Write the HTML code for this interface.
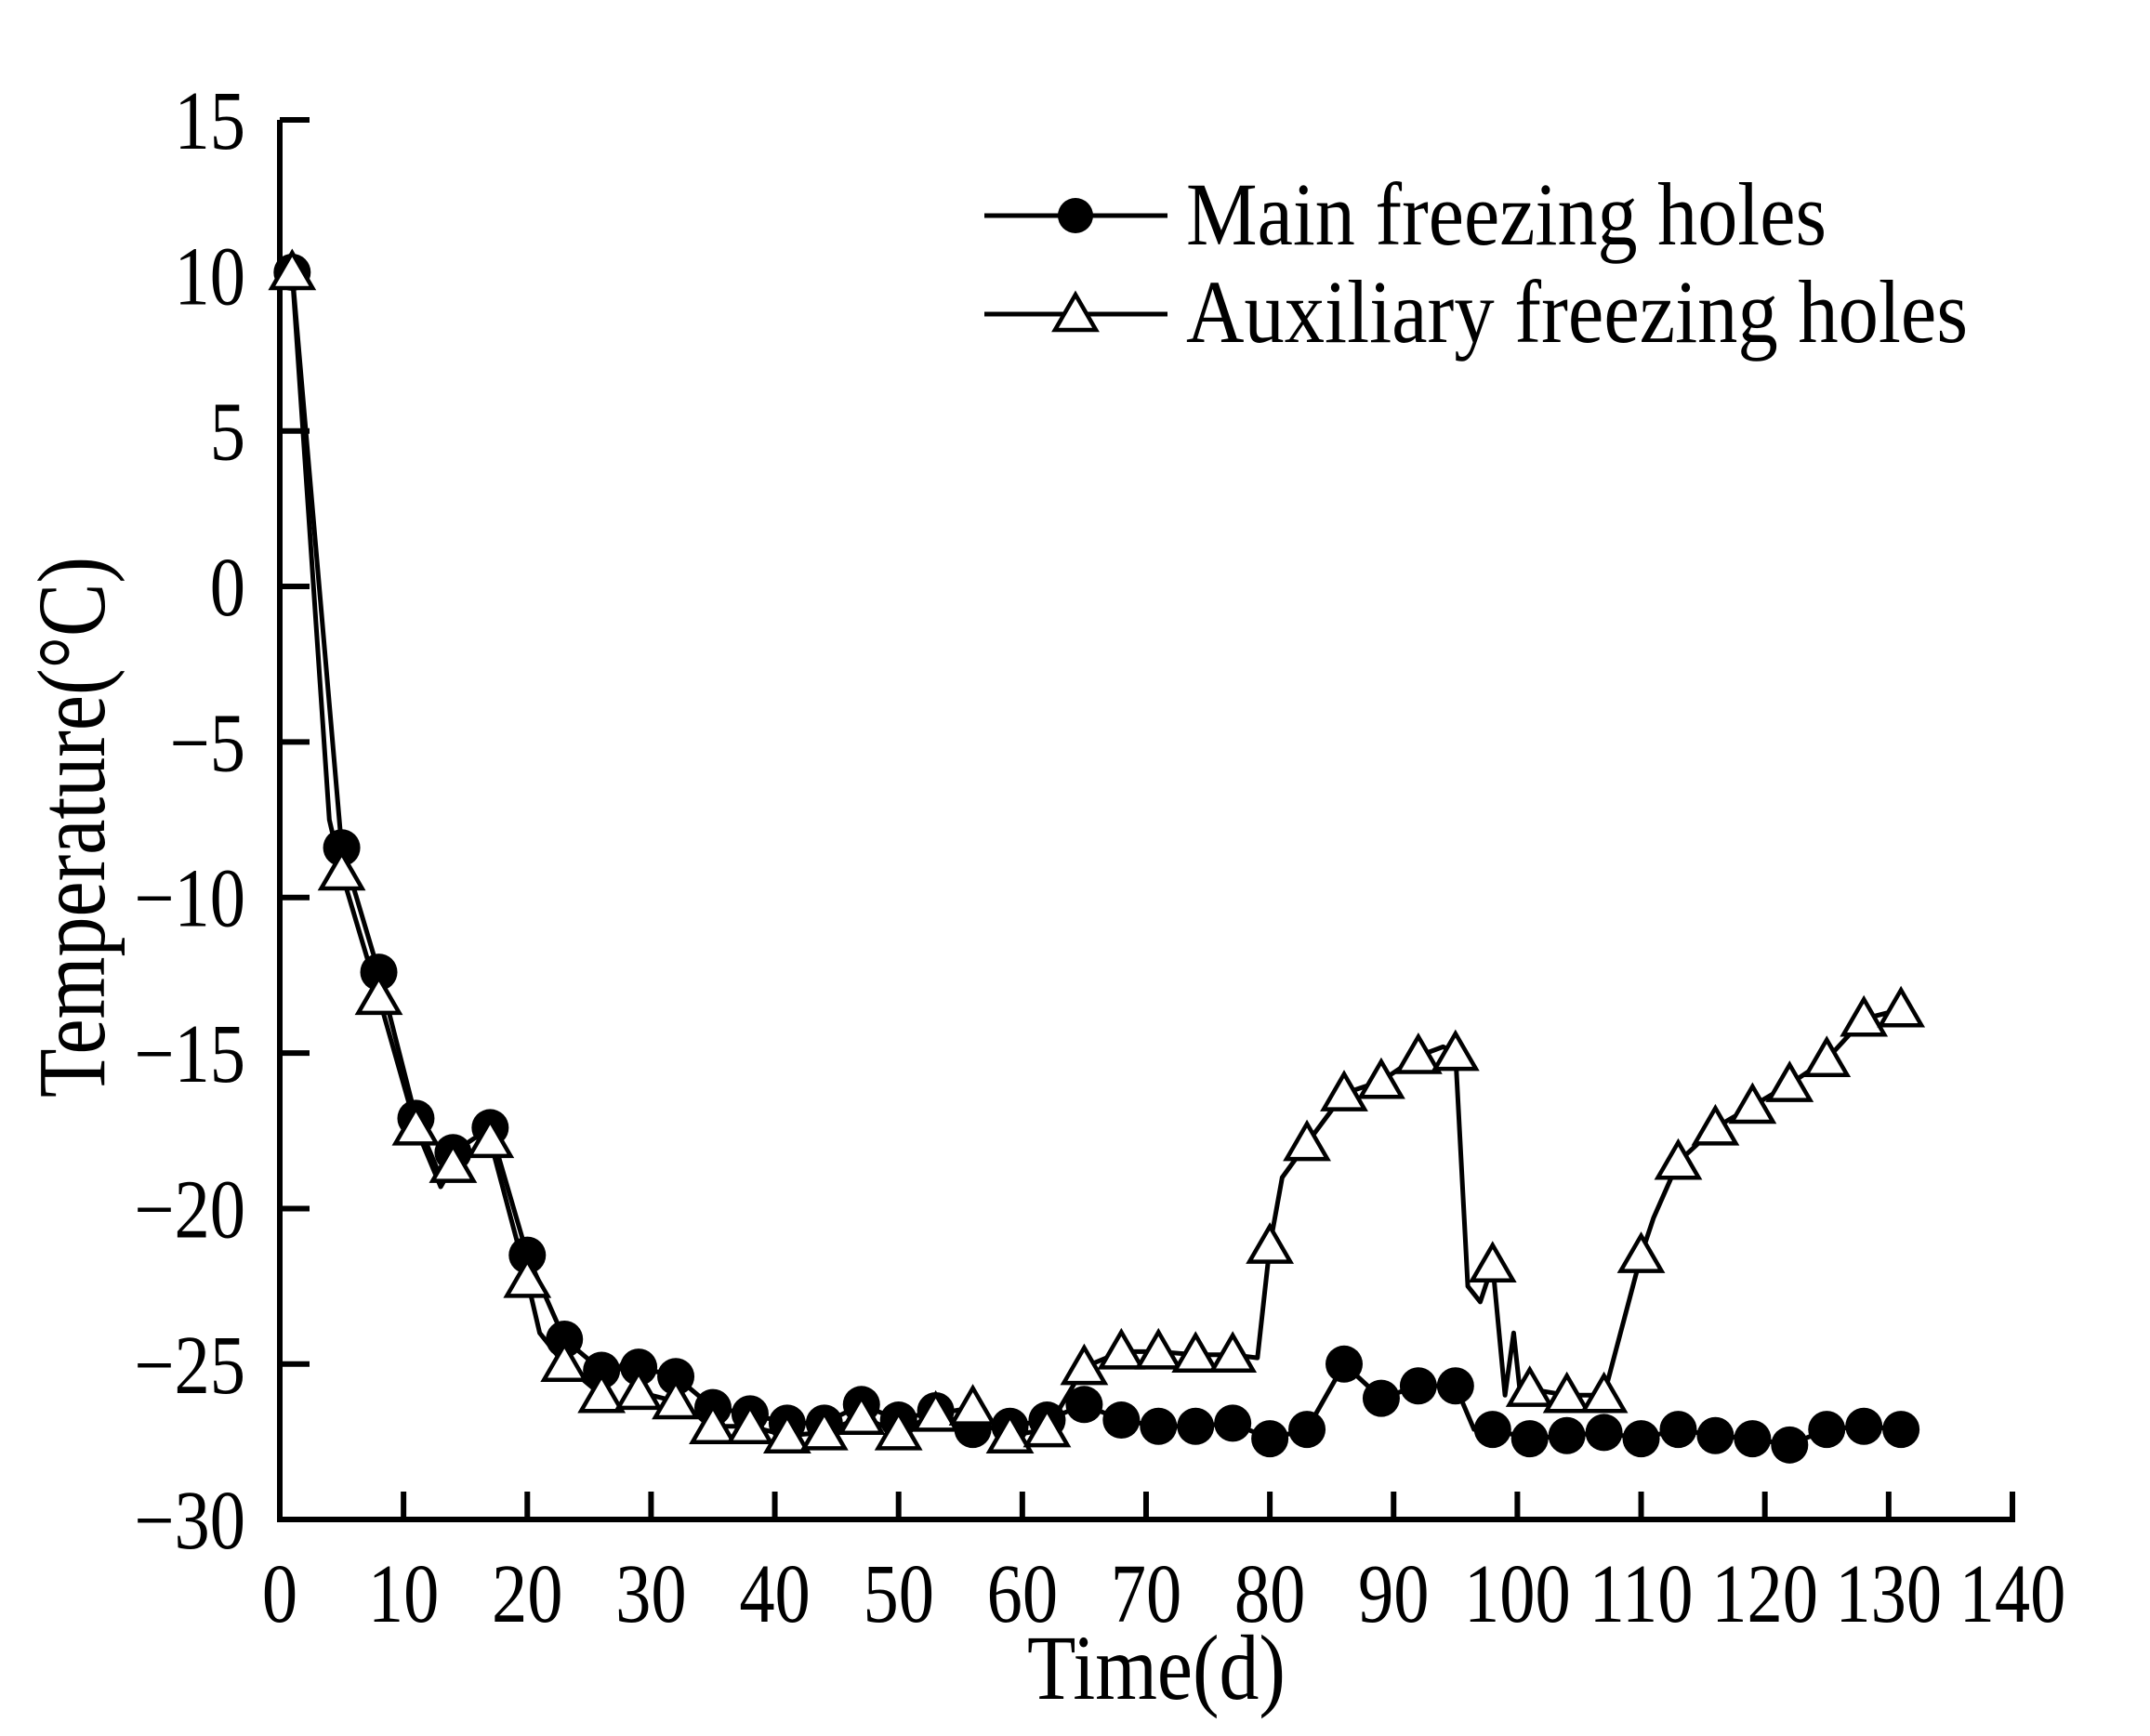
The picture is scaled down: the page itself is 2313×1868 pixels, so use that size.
<!DOCTYPE html>
<html><head><meta charset="utf-8"><style>html,body{margin:0;padding:0;background:#fff}svg{display:block}</style></head>
<body>
<svg id="s" width="2313" height="1868" xmlns="http://www.w3.org/2000/svg" font-family="Liberation Serif, serif" font-size="90">
<rect width="2313" height="1868" fill="#fff"/>
<g id="g"></g>
</svg>
<script>
const NS="http://www.w3.org/2000/svg",g=document.getElementById('g');
const X=v=>301+v*13.314, Y=v=>129+(15-v)*33.47;
function el(t,a,txt){const e=document.createElementNS(NS,t);for(const k in a)e.setAttribute(k,a[k]);if(txt!=null)e.textContent=txt;g.appendChild(e);return e;}
function txt(x,y,s,anchor,sx){sx=sx||0.85;el('text',{x:x/sx,y:y,'text-anchor':anchor,transform:`scale(${sx},1)`},s);}
el('path',{d:`M301,129 V1635 H2165 V1605`,fill:'none',stroke:'#000','stroke-width':6});
for(let v=15;v>=-25;v-=5){el('line',{x1:301,x2:333,y1:Y(v),y2:Y(v),stroke:'#000','stroke-width':6});}
for(let v=10;v<=140;v+=10){el('line',{x1:X(v),x2:X(v),y1:1635,y2:1605,stroke:'#000','stroke-width':6});}
for(let v=15;v>=-30;v-=5){txt(264,Y(v)+31,(v<0?'\u2212':'')+Math.abs(v),'end');}
for(let v=0;v<=140;v+=10){txt(X(v),1745,String(v),'middle');}
el('text',{x:1244,y:1828,'text-anchor':'middle','font-size':100,textLength:278,lengthAdjust:'spacingAndGlyphs'},'Time(d)');
el('text',{x:0,y:0,'text-anchor':'middle','font-size':104,textLength:582,lengthAdjust:'spacingAndGlyphs',transform:'translate(112,890) rotate(-90)'},'Temperature(°C)');
const main=[[1,10.1],[5,-8.4],[8,-12.4],[11,-17.1],[13,-19.0],[14,-18.2],[17,-17.4],[20,-21.5],[23,-24.2],[26,-25.2],[29,-25.1],[32,-25.4],[35,-26.4],[38,-26.6],[41,-26.9],[44,-26.9],[47,-26.3],[50,-26.8],[53,-26.5],[56,-27.1],[59,-27.0],[62,-26.8],[65,-26.3],[68,-26.8],[71,-27.0],[74,-27.0],[77,-26.9],[80,-27.4],[83,-27.1],[86,-25.0],[89,-26.1],[92,-25.7],[95,-25.7],[96.5,-27.1],[98,-27.1],[101,-27.4],[104,-27.3],[107,-27.2],[110,-27.4],[113,-27.1],[116,-27.3],[119,-27.4],[122,-27.6],[125,-27.1],[128,-27.0],[131,-27.1]];
const aux=[[1,10.1],[4,-7.5],[5,-9.2],[8,-13.2],[11,-17.4],[13,-19.3],[14,-18.6],[17,-17.8],[20,-22.3],[21,-24.0],[23,-25.0],[26,-26.0],[28,-24.8],[29,-25.9],[32,-26.2],[35,-27.0],[38,-27.0],[41,-27.3],[44,-27.2],[47,-26.7],[50,-27.2],[53,-26.6],[56,-26.4],[59,-27.3],[62,-27.1],[65,-25.1],[68,-24.6],[71,-24.6],[74,-24.7],[77,-24.7],[79,-24.8],[80,-21.2],[81,-19.0],[83,-17.9],[86,-16.3],[89,-15.9],[92,-15.1],[94,-14.8],[95,-15.0],[96,-22.5],[97,-23.0],[98,-21.8],[99,-26.0],[99.7,-24.0],[100.3,-26.2],[101,-25.8],[104,-26.0],[107,-26.0],[110,-21.5],[111,-20.3],[113,-18.5],[116,-17.4],[119,-16.7],[122,-16.0],[125,-15.2],[128,-13.9],[131,-13.6]];
const pts=a=>a.map(p=>X(p[0]).toFixed(1)+','+Y(p[1]).toFixed(1)).join(' ');
el('polyline',{points:pts(main),fill:'none',stroke:'#000','stroke-width':5,'stroke-linejoin':'round'});
el('polyline',{points:pts(aux),fill:'none',stroke:'#000','stroke-width':5,'stroke-linejoin':'round'});
const mk=[1,5,8,11,14,17,20,23,26,29,32,35,38,41,44,47,50,53,56,59,62,65,68,71,74,77,80,83,86,89,92,95,98,101,104,107,110,113,116,119,122,125,128,131];
main.forEach(p=>{if(mk.includes(p[0]))el('circle',{cx:X(p[0]),cy:Y(p[1]),r:20,fill:'#000'});});
function tri(cx,cy){el('path',{d:`M${cx},${cy-21} L${cx+22},${cy+17} L${cx-22},${cy+17} Z`,fill:'#fff',stroke:'#000','stroke-width':4.5,'stroke-linejoin':'miter'});}
aux.forEach(p=>{if(mk.includes(p[0]))tri(X(p[0]),Y(p[1]));});
el('line',{x1:1059,x2:1256,y1:232,y2:232,stroke:'#000','stroke-width':5});
el('circle',{cx:1157,cy:232,r:19,fill:'#000'});
el('line',{x1:1059,x2:1256,y1:338,y2:338,stroke:'#000','stroke-width':5});
tri(1157,338);
el('text',{x:1276,y:263,'font-size':96,textLength:689,lengthAdjust:'spacingAndGlyphs'},'Main freezing holes');
el('text',{x:1276,y:368,'font-size':96,textLength:841,lengthAdjust:'spacingAndGlyphs'},'Auxiliary freezing holes');
</script>
</body></html>
